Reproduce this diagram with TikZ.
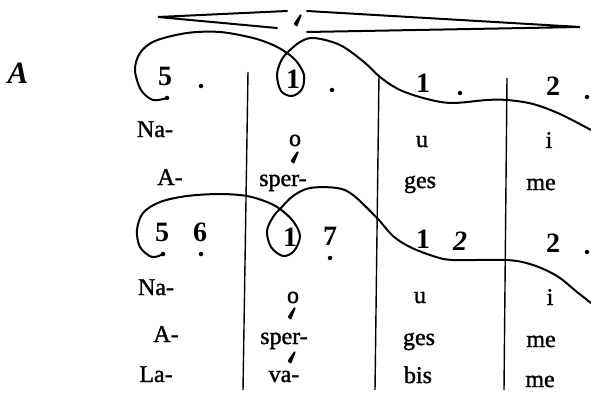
\documentclass[tikz,border=0pt]{standalone}
\usepackage{fontspec}
\setmainfont{Liberation Serif}
\newfontfamily\textserif[FakeBold=1.4]{Liberation Serif}
\begin{document}
\begin{tikzpicture}[x=1pt,y=-1pt,
  txt/.style={anchor=base, inner sep=0pt, font=\textserif\fontsize{24}{24}\selectfont},
  num/.style={anchor=base, inner sep=0pt, font=\fontsize{28}{28}\selectfont\bfseries},
  inum/.style={num, font=\fontsize{28}{28}\selectfont\bfseries\itshape},
  barline/.style={line width=1.4pt},
  slur/.style={line width=2pt, line cap=round, line join=round},
  hairpin/.style={line width=2pt, line cap=round},
  dotmark/.style={circle, fill, inner sep=0pt, minimum size=4.5pt},
  accmark/.pic={\fill[rounded corners=0.8pt] (-4.5,4) -- (-1,7) -- (3.8,-5) -- (2.3,-6) -- cycle;}]
\useasboundingbox (0,0) rectangle (591,393);

% label
\node[anchor=base, inner sep=0pt, font=\fontsize{31}{31}\selectfont\bfseries\itshape] (lbl) at (18,84) {A};

% bar lines
\coordinate (b1t) at (248,72);  \coordinate (b1b) at (243,390);
\coordinate (b2t) at (379,75);  \coordinate (b2b) at (375,390);
\coordinate (b3t) at (507,78);  \coordinate (b3b) at (504,390);
\draw[barline] (b1t) -- (b1b);
\draw[barline] (b2t) -- (b2b);
\draw[barline] (b3t) -- (b3b);

% hairpins
\coordinate (h1) at (158,17); \coordinate (h2) at (287,11); \coordinate (h3) at (277,28);
\coordinate (h4) at (307,11); \coordinate (h5) at (307,32); \coordinate (h6) at (580,27);
\draw[hairpin] (h2) -- (h1) -- (h3);
\draw[hairpin] (h4) -- (h6) -- (h5);
\pic at (298,20) {accmark};

% first row of numbers
\node[num] (n1a) at (165,86) {5};
\node[dotmark] (d1a) at (201,86) {};
\node[num] (n1b) at (293,89) {1};
\node[dotmark] (d1b) at (332,90) {};
\node[num] (n1c) at (423,93) {1};
\node[dotmark] (d1c) at (460,93) {};
\node[num] (n1d) at (553,96) {2};
\node[dotmark] (d1d) at (587,97) {};

% first slur
\node[dotmark] (e1) at (167,98) {};
\draw[slur] plot[smooth, tension=0.55] coordinates {
 (167,98) (153,100) (141,90) (135,70) (140,53) (155,41) (187,33) (220,32) (253,38) (273,45)
 (287,53) (297,62) (304,75) (302,89) (292,96) (281,91) (277,75) (281,61) (287,53)
 (300,42) (314,38) (340,45) (364,62) (380,77) (400,90) (427,99) (452,103) (487,100)
 (507,100) (533,104) (560,114) (591,130)};

% text block 1
\node[txt] (t1a) at (155,137) {Na-};
\node[txt] (t1b) at (295,146) {o};
\node[txt] (t1c) at (422,147) {u};
\node[txt] (t1d) at (549,148) {i};
\pic at (295,157) {accmark};
\node[txt] (t2a) at (170,185) {A-};
\node[txt] (t2b) at (283,186) {sper-};
\node[txt] (t2c) at (420,188) {ges};
\node[txt] (t2d) at (541,190) {me};

% second row of numbers
\node[num] (n2a) at (162,241) {5};
\node[num] (n2b) at (200,241) {6};
\node[dotmark] (d2b) at (201,254) {};
\node[num] (n2c) at (290,246) {1};
\node[num] (n2d) at (330,245) {7};
\node[dotmark] (d2d) at (330,258) {};
\node[num] (n2e) at (423,248) {1};
\node[inum] (n2f) at (460,250) {2};
\node[num] (n2g) at (553,252) {2};
\node[dotmark] (d2g) at (587,252) {};

% second slur
\node[dotmark] (e2) at (163,254) {};
\draw[slur] plot[smooth, tension=0.55] coordinates {
 (163,254) (152,257) (140,247) (137,230) (143,213) (160,202) (187,196) (220,194) (247,196)
 (267,202) (280,209) (293,221) (300,236) (294,251) (283,256) (271,247) (267,231) (273,217)
 (280,209) (293,196) (310,188) (337,188) (353,195) (377,218) (393,236) (410,247) (433,256)
 (453,260) (507,260) (533,265) (557,276) (577,292) (591,303)};

% text block 2
\node[txt] (t3a) at (156,295) {Na-};
\node[txt] (t3b) at (293,303) {o};
\node[txt] (t3c) at (420,303) {u};
\node[txt] (t3d) at (550,305) {i};
\pic at (292,313) {accmark};
\node[txt] (t4a) at (166,342) {A-};
\node[txt] (t4b) at (284,344) {sper-};
\node[txt] (t4c) at (419,345) {ges};
\node[txt] (t4d) at (541,347) {me};
\pic at (292,357) {accmark};
\node[txt] (t5a) at (156,382) {La-};
\node[txt] (t5b) at (284,382) {va-};
\node[txt] (t5c) at (418,383) {bis};
\node[txt] (t5d) at (540,387) {me};
\end{tikzpicture}
\end{document}
